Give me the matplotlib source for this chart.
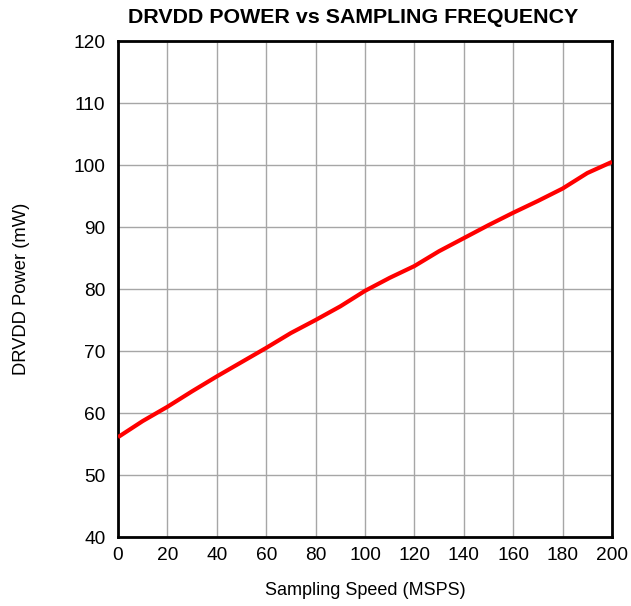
import matplotlib
matplotlib.use("Agg")
import matplotlib.pyplot as plt

speed = [0, 10, 20, 30, 40, 50, 60, 70, 80, 90, 100, 110, 120, 130, 140, 150, 160, 170, 180, 190, 200]
power = [56.1, 58.7, 61.0, 63.5, 65.9, 68.2, 70.5, 72.9, 75.0, 77.2, 79.7, 81.8, 83.7, 86.1, 88.2, 90.3, 92.3, 94.2, 96.2, 98.7, 100.5]

xticks = list(range(0, 201, 20))
yticks = list(range(40, 121, 10))

plt.rcParams['font.family'] = ['Liberation Sans', 'DejaVu Sans']

fig = plt.figure(figsize=(6.31, 6.06), dpi=100)
ax = fig.add_axes([118/631, 1-537/606, (612-118)/631, (537-41)/606])
ax.plot(speed, power, color='#ff0000', lw=3, solid_capstyle='butt', zorder=3)
ax.set_xlim(0, 200)
ax.set_ylim(40, 120)
ax.set_xticks(xticks)
ax.set_yticks(yticks)
ax.grid(True, color='#a6a6a6', lw=1)
ax.set_axisbelow(True)
for s in ax.spines.values():
    s.set_linewidth(2)
    s.set_color('black')
ax.tick_params(length=0, labelsize=13.8)
ax.tick_params(axis='y', pad=9)
ax.tick_params(axis='x', pad=7)
ax.set_xlabel('Sampling Speed (MSPS)', fontsize=13, labelpad=13)
ax.set_ylabel('DRVDD Power (mW)', fontsize=13.2, labelpad=31)
ax.set_title('DRVDD POWER vs SAMPLING FREQUENCY', fontsize=15.4, fontweight='bold', pad=13, x=0.476)
fig.savefig('out.png', dpi=100)
